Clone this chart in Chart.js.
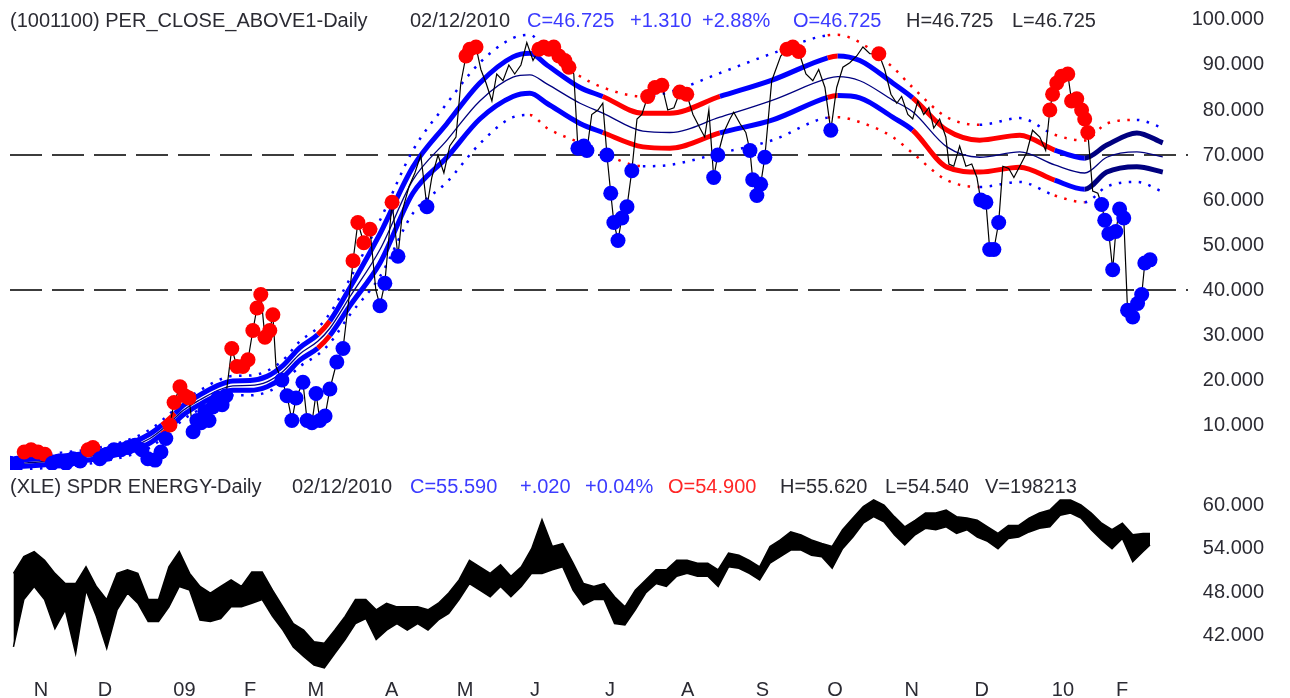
<!DOCTYPE html>
<html>
<head>
<meta charset="utf-8">
<script src="https://cdn.jsdelivr.net/npm/chart.js@4.4.1/dist/chart.umd.min.js"></script>
<style>
  body { margin: 0; background: #fff; width: 1290px; height: 698px; overflow: hidden; position: relative;
         font-family: Arial, "Liberation Sans", sans-serif; }
  canvas { position: absolute; left: 0; }
  #top { top: 0; }
  #bot { top: 470px; }
  .hd { position: absolute; left: 0; width: 1290px; height: 22px; font-size: 20px; line-height: 22px; white-space: pre; }
  .hd span { position: absolute; top: 0; }
  .k { color: #2b2b33; } .b { color: #3b3bff; } .r { color: #ff2626; }
</style>
</head>
<body>
<canvas id="top" width="1290" height="470"></canvas>
<canvas id="bot" width="1290" height="228"></canvas>

<div class="hd" style="top:9px">
  <span class="k" style="left:10px">(1001100) PER_CLOSE_ABOVE1-Daily</span>
  <span class="k" style="left:410px">02/12/2010</span>
  <span class="b" style="left:527px">C=46.725</span>
  <span class="b" style="left:630px">+1.310</span>
  <span class="b" style="left:702px">+2.88%</span>
  <span class="b" style="left:793px">O=46.725</span>
  <span class="k" style="left:906px">H=46.725</span>
  <span class="k" style="left:1012px">L=46.725</span>
</div>
<div class="hd" style="top:475px">
  <span class="k" style="left:10px">(XLE) SPDR ENERGY-Daily</span>
  <span class="k" style="left:292px">02/12/2010</span>
  <span class="b" style="left:410px">C=55.590</span>
  <span class="b" style="left:520px">+.020</span>
  <span class="b" style="left:585px">+0.04%</span>
  <span class="r" style="left:668px">O=54.900</span>
  <span class="k" style="left:780px">H=55.620</span>
  <span class="k" style="left:885px">L=54.540</span>
  <span class="k" style="left:985px">V=198213</span>
</div>

<script>
// trading-day index 0 = first bar on the chart (late Oct 2008), 330 = 02/12/2010
const monthDay   = [9, 27.5, 50.5, 69.5, 88.5, 110.5, 131.7, 152, 173.7, 196.2, 217.8, 238.8, 261, 281.3, 304.8, 321.9];
const monthLabel = ['N', 'D', '09', 'F', 'M', 'A', 'M', 'J', 'J', 'A', 'S', 'O', 'N', 'D', '10', 'F'];

const topTicks = [10, 20, 30, 40, 50, 60, 70, 80, 90, 100];
const botTicks = [42, 48, 54, 60];
const refLevels = [70, 40];

// PER_CLOSE_ABOVE1 closes
const priceDay = [0, 2.0, 4.1, 6.1, 8.1, 10.1, 12.2, 14.2, 16.2, 18.2, 20.3, 22.6, 24.0, 26.0, 28.1, 30.1, 32.1, 34.2, 36.2, 38.2,
  39.9, 42.0, 43.7, 45.1, 46.3, 47.5, 49.2, 50.6, 51.8, 53.0, 54.1, 55.3, 56.4, 57.6, 58.7, 60.2, 61.4, 62.5, 64.2, 65.7,
  67.4, 68.9, 70.3, 71.5, 72.6, 73.8, 75.2, 76.1, 77.0, 78.7, 80.2, 81.6, 82.8, 84.8, 86.0, 87.4, 88.6, 89.7, 91.2, 92.6,
  94.6, 96.4, 98.1, 99.3, 100.7, 102.4, 104.2, 105.9, 107.1, 108.5, 110.6, 112.3, 113.7, 115.5, 117.2, 118.9, 120.7, 122.1, 123.9, 125.6,
  127.3, 129.1, 130.5, 132.0, 133.1, 134.9, 136.3, 137.8, 139.5, 140.9, 142.7, 144.4, 146.1, 147.9, 149.6, 151.4, 153.1, 154.5, 156.0, 157.4,
  158.9, 160.6, 161.8, 163.2, 164.4, 166.1, 167.0, 168.4, 170.2, 171.6, 172.8, 173.9, 174.8, 176.0, 177.1, 178.6, 180.0, 181.5, 182.9, 184.6,
  186.7, 188.7, 190.4, 192.2, 193.9, 195.9, 197.7, 199.7, 201.1, 202.3, 203.7, 204.9, 206.6, 208.4, 209.5, 211.3, 213.0, 214.2, 215.0, 216.2,
  217.3, 218.5, 220.5, 223.1, 224.9, 226.6, 228.3, 230.4, 232.4, 234.1, 235.9, 237.6, 239.3, 241.1, 243.1, 245.1, 246.9, 248.9, 251.5, 253.2,
  255.0, 256.7, 258.1, 259.9, 261.3, 262.8, 264.5, 266.0, 267.4, 269.1, 270.9, 271.8, 273.2, 274.9, 276.7, 278.4, 279.9, 281.0, 282.5, 283.6,
  284.8, 286.2, 287.4, 289.1, 290.6, 292.3, 294.3, 296.0, 298.1, 299.8, 301.0, 301.8, 303.0, 304.4, 306.2, 307.3, 308.8, 310.2, 311.1, 312.0,
  313.4, 314.9, 316.0, 316.9, 318.1, 319.2, 320.1, 321.2, 322.4, 323.5, 325.0, 326.4, 327.6, 328.5, 330.0];
const priceVal = [1.5, 1.5, 4, 4.5, 4, 3.5, 1.5, 2, 1.5, 2.5, 2, 4.5, 5, 2.5, 3.5, 4.5, 4.5, 5, 5.5, 4.5,
  2.5, 2.2, 4, 7, 10, 15, 18.5, 16.5, 16, 8.5, 11, 10.5, 13, 11, 14, 16, 14.5, 16.5, 27, 23,
  23, 24.5, 31, 36, 39, 29.5, 31, 34.5, 23, 20, 16.5, 11, 16, 19.5, 11, 10.5, 17, 11, 12, 18,
  24, 27, 38, 46.5, 55, 50.5, 53.5, 40, 36.5, 41.5, 59.5, 47.5, 58, 63, 66, 70, 58.5, 65, 70, 66,
  72, 74, 86, 92, 93.5, 94, 89, 86, 82, 88, 86.5, 90, 88, 90, 95, 91, 93.5, 94, 93.5, 94,
  92, 91, 89.5, 88, 71.5, 72, 71, 79, 80, 81.5, 70, 61.5, 55, 51, 56, 58.5, 66.5, 78, 79, 83,
  85, 85.5, 80, 80.5, 84, 83.5, 79, 76, 74, 80, 65, 70, 75, 78, 79.5, 77, 75, 71, 64.5, 61,
  63.5, 69.5, 86.5, 92, 93.5, 94, 93, 88, 86.5, 89, 85, 75.5, 85, 89.5, 90.5, 92, 94, 92.5, 92.5, 89,
  83.5, 81.5, 83, 79, 78, 82, 79, 80.5, 76, 78, 74, 68, 67.5, 72, 67.5, 68, 65, 60, 59.5, 49,
  49, 55, 67.5, 67, 65, 67.5, 70.5, 75.5, 74, 71, 80, 83.5, 86, 87.5, 88, 82, 82.5, 80, 78, 75,
  62, 61.5, 59, 55.5, 52.5, 44.5, 53, 58, 56, 35.5, 34, 37, 39, 46, 46.7];
// r = close above the band, b = below, n = no marker
const priceDot = ['bb', 'rrrr', 'bbbbb', 'rr', 'bbbbbbbbbbb', 'rrrrr', 'bbbbbbbbb', 'rrrrrrrrrr', 'n', 'bbbbbbbbbbbbb',
  'n', 'rrrr', 'n', 'bb', 'r', 'b', 'nnnn', 'b', 'nnnnnn', 'rrr', 'nnnnnnnnnn', 'rrrrrrr', 'n', 'bbb', 'nnn', 'bbbbbbb',
  'nn', 'rrr', 'nn', 'rr', 'nnnn', 'bb', 'nnnnn', 'bbbbb', 'nn', 'rrr', 'nnnn', 'b', 'nnnnnn', 'r',
  'nnnnnnnnnnnnnnnnnn', 'bbbbb', 'nnnnnnnn', 'rrrrrrrrrr', 'nn', 'bbbbbbbbbbbbb'].join('').split('');

// moving average envelope
const bandDay = [0, 11.6, 26.0, 35.6, 40.5, 44.0, 47.8, 50.1, 55.0, 59.9, 64.5, 69.5, 74.4, 79.0, 83.9, 89.1, 92.6, 98.4, 107.1, 116.6,
  126.5, 136.0, 145.6, 150.5, 155.4, 165.0, 171.6, 183.2, 191.0, 205.5, 220.8, 236.7, 239.6, 246.0, 255.5, 261.3, 271.2, 280.7, 292.3, 302.4,
  311.1, 317.5, 326.2, 333.7];
const bandMid = [1.3, 2.0, 3.4, 5.3, 7.0, 9.0, 11.6, 13.2, 15.6, 17.6, 18.7, 18.8, 19.6, 21.9, 25.8, 28.6, 31.5, 38.5, 49.0, 64.4,
  73.3, 82.0, 87.3, 87.8, 85.8, 81.5, 79.3, 75.3, 75.0, 78.4, 82.2, 87.0, 87.4, 86.5, 82.2, 79.6, 71.8, 69.5, 70.7, 67.8,
  66.0, 69.5, 70.7, 69.6];
const bandUpper = [2.0, 2.8, 4.2, 6.2, 8.0, 10.0, 12.6, 14.3, 16.7, 18.7, 19.8, 19.9, 20.8, 23.2, 27.2, 30.1, 33.1, 40.5, 52.5, 67.3,
  77.0, 86.0, 91.8, 92.6, 90.0, 85.0, 83.0, 79.3, 79.3, 83.0, 86.7, 91.6, 92.0, 91.0, 86.0, 82.7, 75.5, 73.3, 74.4, 71.1,
  69.3, 72.2, 74.9, 72.7];
const bandLower = [0.6, 1.3, 2.6, 4.4, 6.0, 8.0, 10.6, 12.2, 14.6, 16.6, 17.7, 17.7, 18.5, 20.6, 24.4, 27.1, 29.9, 36.5, 46.0, 61.5,
  69.5, 78.0, 83.0, 83.7, 81.5, 77.0, 75.0, 71.8, 71.5, 74.9, 77.8, 82.8, 83.2, 82.7, 78.4, 75.5, 67.3, 66.2, 67.3, 64.4,
  62.4, 66.2, 67.4, 66.2];
const bandOuterUp = [2.8, 3.6, 5.0, 7.1, 9.0, 11.0, 13.6, 15.3, 17.7, 19.8, 20.9, 21.0, 22.0, 24.4, 28.6, 31.6, 34.8, 42.5, 55.5, 71.0,
  81.5, 90.5, 96.0, 96.7, 93.0, 87.5, 85.0, 83.0, 84.0, 88.2, 92.6, 96.6, 96.7, 95.0, 89.5, 85.0, 78.4, 76.7, 78.2, 74.5,
  73.2, 77.0, 77.8, 76.0];
const bandOuterLo = [0.0, 0.5, 1.8, 3.5, 5.0, 7.0, 9.6, 11.2, 13.5, 15.5, 16.6, 16.6, 17.3, 19.4, 23.0, 25.6, 28.2, 34.5, 43.0, 57.0,
  64.0, 72.5, 78.4, 78.9, 76.0, 72.7, 70.4, 67.5, 67.8, 70.4, 73.3, 78.3, 78.4, 77.3, 74.0, 70.4, 64.4, 62.9, 64.0, 61.0,
  59.5, 63.0, 64.0, 61.8];
// colour of each segment starting at that band point
const bandTone    = ['bbbbb', 'r', 'bbbbbbbbb', 'r', 'bbbbbbbbbb', 'rrr', 'bb', 'r', 'bbb', 'rrrr', 'b', 'nnnn'].join('').split('');
const outerUpTone = ['bbbbbbbbbbbbbbbbbbbbbbbb', 'rrr', 'bbbb', 'rrrrrr', 'bb', 'rrr', 'bb'].join('').split('');
const outerLoTone = ['bbbbbbbbbbbbbbbbbbbbbbb', 'rrrr', 'bbbb', 'rrrrrr', 'bb', 'r', 'bbbb'].join('').split('');

// XLE daily range, one entry per 3 trading days
const xleHigh = [50.6, 52.9, 53.6, 52.4, 50.6, 49.2, 49.2, 51.5, 48.8, 47, 50.6, 51.1, 50.6, 47, 47, 51.5, 53.6, 50.6, 48.8, 47.9,
  48.8, 49.7, 48.8, 50.8, 50.8, 48.3, 46, 43.7, 42.8, 41.2, 41, 42.8, 44.7, 47, 47, 45.6, 46.5, 46, 46, 46,
  45.6, 46.5, 47.9, 49.7, 52.4, 51.5, 50.6, 51.8, 50.2, 51.5, 54, 58, 54.3, 54.7, 52, 49.2, 48.8, 49.2, 47.4, 46,
  48.3, 49.7, 51.1, 51.1, 52.4, 52.4, 52, 52, 51.1, 53.4, 53.1, 52.4, 51.5, 54.3, 55.2, 56.3, 55.9, 55.2, 54.7, 54.3,
  56.6, 58.2, 59.8, 60.7, 60, 58.4, 57, 57.9, 58.9, 58.9, 59.3, 58.4, 58.2, 57.9, 57, 56.1, 57.2, 57.2, 58.2, 58.9,
  59.3, 60.7, 60.7, 60, 58.9, 57.5, 56.6, 57.5, 55.9, 56.1, 56.1];
const xleLow = [40.5, 47, 48.8, 47, 43, 45.6, 39.6, 48.3, 44.7, 40.3, 45.6, 47.9, 46.5, 44, 44, 46, 48.8, 48.3, 44.2, 44,
  44.4, 46, 46, 46.5, 47, 44.7, 42.8, 40.5, 39.2, 38, 37.6, 39.6, 41.5, 43.7, 44.4, 41.5, 42.8, 43.7, 42.8, 43.7,
  42.8, 44.2, 45.1, 47, 49.2, 48.3, 47.4, 48.8, 47.4, 48.8, 50.6, 50.6, 51.1, 51.5, 48.3, 46.3, 47, 47, 43.7, 43.5,
  45.6, 47.9, 49.2, 48.8, 50.2, 50.6, 50.2, 50.2, 48.8, 51.5, 51.3, 50.6, 49.7, 52, 52.9, 53.8, 53.8, 53.1, 52.9, 51.3,
  54, 55.6, 57.5, 58.4, 57.7, 55.9, 54.5, 55.9, 56.8, 56.6, 57, 56.1, 56.6, 55.6, 55, 54, 55.4, 55.6, 56.3, 56.8,
  57, 58.6, 58.9, 58.2, 56.6, 55.2, 54, 55.4, 52.2, 53.6, 54.5];
const xleDay = xleHigh.map((h, i) => Math.min(i * 3 + 1, 330));

const X_MIN = 0, X_MAX = 341;
const TXT = '#2b2b33';
const FONT = { family: 'Arial, "Liberation Sans", sans-serif', size: 20 };
const tones = { b: '#0000ff', r: '#ff0000', n: '#000080' };

const pts = (days, vals) => days.map((d, i) => ({ x: d, y: vals[i] }));
const seg = tone => ctx => tones[tone[ctx.p0DataIndex]];

function band(vals, tone, width) {
  return {
    data: pts(bandDay, vals), borderWidth: width, borderColor: '#0000ff',
    segment: { borderColor: seg(tone) }, pointRadius: 0,
    cubicInterpolationMode: 'monotone', order: 3
  };
}
function dotted(vals, tone) {
  return {
    data: pts(bandDay, vals), borderWidth: 2.5, borderColor: '#0000ff', borderDash: [2.5, 7.5],
    segment: { borderColor: seg(tone), borderDash: () => [2.5, 7.5] }, pointRadius: 0,
    cubicInterpolationMode: 'monotone', order: 4
  };
}

// fixed axis size, and no extra room reserved for the end tick labels
const fitY = w => s => { s.width = w; s.paddingTop = 0; s.paddingBottom = 0; };
const fitX = h => s => { s.height = h; s.paddingLeft = 0; s.paddingRight = 0; };

const yAxis = (min, max, ticks) => ({
  position: 'right', min, max,
  afterBuildTicks: s => { s.ticks = ticks.map(v => ({ value: v })); },
  afterFit: fitY(76),
  grid: { display: false }, border: { display: false },
  ticks: { crossAlign: 'far', color: TXT, font: FONT, callback: v => v.toFixed(3) }
});

const common = {
  responsive: false, animation: false, devicePixelRatio: 1, events: [],
  layout: { autoPadding: false, padding: { left: 10, right: 26, top: 0, bottom: 0 } },
  plugins: { legend: { display: false }, tooltip: { enabled: false } }
};

new Chart(document.getElementById('top'), {
  type: 'line',
  data: {
    datasets: [
      {
        data: pts(priceDay, priceVal), borderColor: '#000', borderWidth: 1.2, tension: 0, order: 0,
        pointRadius: ctx => priceDot[ctx.dataIndex] === 'n' ? 0 : 7.5,
        pointBackgroundColor: ctx => tones[priceDot[ctx.dataIndex]] || '#000',
        pointBorderWidth: 0
      },
      {
        data: pts(bandDay, bandMid), borderColor: '#000080', borderWidth: 1.3, pointRadius: 0,
        cubicInterpolationMode: 'monotone', order: 2
      },
      band(bandUpper, bandTone, 5),
      band(bandLower, bandTone, 5),
      dotted(bandOuterUp, outerUpTone),
      dotted(bandOuterLo, outerLoTone),
      ...refLevels.map(v => ({
        data: [{ x: X_MIN, y: v }, { x: X_MAX, y: v }], borderColor: '#3c3c3c', borderWidth: 2,
        borderDash: [32, 10], pointRadius: 0, order: 9
      }))
    ]
  },
  options: {
    ...common,
    scales: {
      x: { type: 'linear', min: X_MIN, max: X_MAX, display: false },
      y: yAxis(0, 104.44, topTicks)
    }
  }
});

new Chart(document.getElementById('bot'), {
  type: 'line',
  data: {
    datasets: [
      { data: pts(xleDay, xleHigh), borderColor: '#000', borderWidth: 1.5, backgroundColor: '#000',
        fill: '+1', pointRadius: 0, tension: 0 },
      { data: pts(xleDay, xleLow), borderColor: '#000', borderWidth: 1.5, pointRadius: 0, tension: 0 }
    ]
  },
  options: {
    ...common,
    scales: {
      x: {
        type: 'linear', min: X_MIN, max: X_MAX,
        afterBuildTicks: s => { s.ticks = monthDay.map(v => ({ value: v })); },
        afterFit: fitX(26),
        grid: { display: false, drawTicks: false }, border: { display: false },
        ticks: { autoSkip: false, maxRotation: 0, padding: 6, color: TXT, font: FONT,
                 callback: (v, i) => monthLabel[i] }
      },
      y: yAxis(37.05, 64.81, botTicks)
    }
  }
});
</script>
</body>
</html>
